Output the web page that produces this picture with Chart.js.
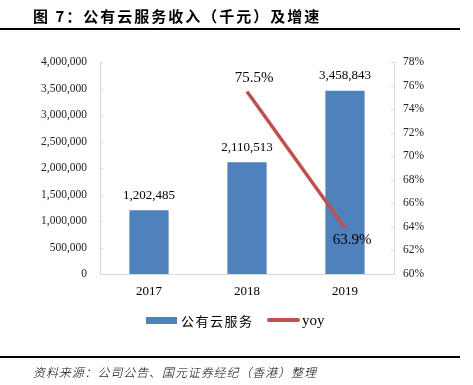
<!DOCTYPE html>
<html>
<head>
<meta charset="utf-8">
<script src="https://cdn.jsdelivr.net/npm/chart.js@4/dist/chart.umd.min.js"></script>
<style>
  body { margin: 0; background: #fff; }
  #wrap { position: relative; width: 473px; height: 385px; overflow: hidden; }
  #chart { position: absolute; left: 0; top: 0; }
  .rule { position: absolute; left: 0; width: 460px; height: 1.5px; background: #000; }
  #title { position: absolute; left: 33px; top: 5px; font: bold 15px "Noto Sans CJK SC"; letter-spacing: 2px; color: #000; }
  #source { position: absolute; left: 33px; top: 363px; font: italic 300 12px "Noto Sans CJK SC"; letter-spacing: 0.9px; color: #000; }
  .legend { position: absolute; top: 311px; height: 18px; display: flex; align-items: center; }
  .swatch { display: inline-block; }
</style>
</head>
<body>
<div id="wrap">
  <canvas id="chart" width="473" height="385"></canvas>
  <div id="title">图 7：公有云服务收入（千元）及增速</div>
  <div class="rule" style="top:28px"></div>
  <div class="legend" style="left:146px">
    <span class="swatch" style="width:31px;height:7px;background:#4F81BD"></span>
    <span style="margin-left:4px;font:13px 'Noto Sans CJK SC';letter-spacing:1.5px">公有云服务</span>
  </div>
  <div class="legend" style="left:267px">
    <span class="swatch" style="width:33px;height:3.5px;background:#C0504D;border-radius:2px"></span>
    <span style="margin-left:2px;font:15px 'Liberation Serif'">yoy</span>
  </div>
  <div class="rule" style="top:356px"></div>
  <div id="source">资料来源：公司公告、国元证券经纪（香港）整理</div>
</div>
<script>
// === DATA === //
const years = ['2017', '2018', '2019']
const revenue = [1202485, 2110513, 3458843]
const yoyGrowth = [null, 75.5, 63.9]

const barColor = '#4F81BD'
const lineColor = '#C0504D'
const axisColor = '#D9D9D9'
const serif = 'Liberation Serif'

// draws the value labels (bars above, line points offset like the excel labels)
const valueLabels = {
  id: 'valueLabels',
  afterDatasetsDraw(chart) {
    const ctx = chart.ctx
    ctx.save()
    ctx.fillStyle = '#000'
    ctx.textAlign = 'center'
    ctx.textBaseline = 'middle'

    ctx.font = `13px "${serif}"`
    chart.getDatasetMeta(0).data.forEach((bar, i) => {
      ctx.fillText(revenue[i].toLocaleString('en-US'), bar.x, bar.y - 15)
    })

    ctx.font = `15px "${serif}"`
    const pts = chart.getDatasetMeta(1).data
    pts.forEach((pt, i) => {
      if (yoyGrowth[i] == null) return
      const below = i == pts.length - 1
      ctx.fillText(yoyGrowth[i].toFixed(1) + '%', pt.x + 7, below ? pt.y + 12 : pt.y - 13)
    })
    ctx.restore()
  }
}

// small inward tick marks on both value axes
const innerTicks = {
  id: 'innerTicks',
  afterDraw(chart) {
    const ctx = chart.ctx
    const area = chart.chartArea
    ctx.save()
    ctx.strokeStyle = axisColor
    ctx.lineWidth = 1
    ;[['y', area.left, 3], ['y1', area.right, -3]].forEach(([id, x, len]) => {
      const scale = chart.scales[id]
      scale.ticks.forEach(t => {
        const y = Math.round(scale.getPixelForValue(t.value)) + 0.5
        ctx.beginPath()
        ctx.moveTo(x, y)
        ctx.lineTo(x + len, y)
        ctx.stroke()
      })
    })
    ctx.restore()
  }
}

const tickFont = { family: serif, size: 11.5 }

new Chart(document.getElementById('chart'), {
  data: {
    labels: years,
    datasets: [{
      type: 'bar',
      label: '公有云服务',
      data: revenue,
      backgroundColor: barColor,
      barPercentage: 0.4,
      categoryPercentage: 1,
      yAxisID: 'y',
      order: 2
    }, {
      type: 'line',
      label: 'yoy',
      data: yoyGrowth,
      borderColor: lineColor,
      borderWidth: 3.5,
      pointRadius: 0,
      spanGaps: false,
      yAxisID: 'y1',
      order: 1
    }]
  },
  options: {
    responsive: false,
    animation: false,
    layout: { padding: { top: 62, bottom: 81, left: 0, right: 0 } },
    plugins: { legend: { display: false }, tooltip: { enabled: false } },
    scales: {
      x: {
        grid: { display: false, drawTicks: false },
        border: { color: axisColor, width: 1 },
        ticks: { color: '#000', font: { family: serif, size: 13 }, padding: 10 },
        afterFit: s => { s.height = 30 }
      },
      y: {
        position: 'left',
        min: 0, max: 4000000,
        grid: { display: false, drawTicks: false },
        border: { color: axisColor, width: 1 },
        ticks: {
          stepSize: 500000, color: '#222', font: tickFont, padding: 13,
          callback: v => v.toLocaleString('en-US')
        },
        afterFit: s => { s.width = 100 }
      },
      y1: {
        position: 'right',
        min: 60, max: 78,
        grid: { display: false, drawTicks: false },
        border: { color: axisColor, width: 1 },
        ticks: { stepSize: 2, color: '#222', font: tickFont, padding: 9, callback: v => v + '%' },
        afterFit: s => { s.width = 79 }
      }
    }
  },
  plugins: [valueLabels, innerTicks]
})
</script>
</body>
</html>
